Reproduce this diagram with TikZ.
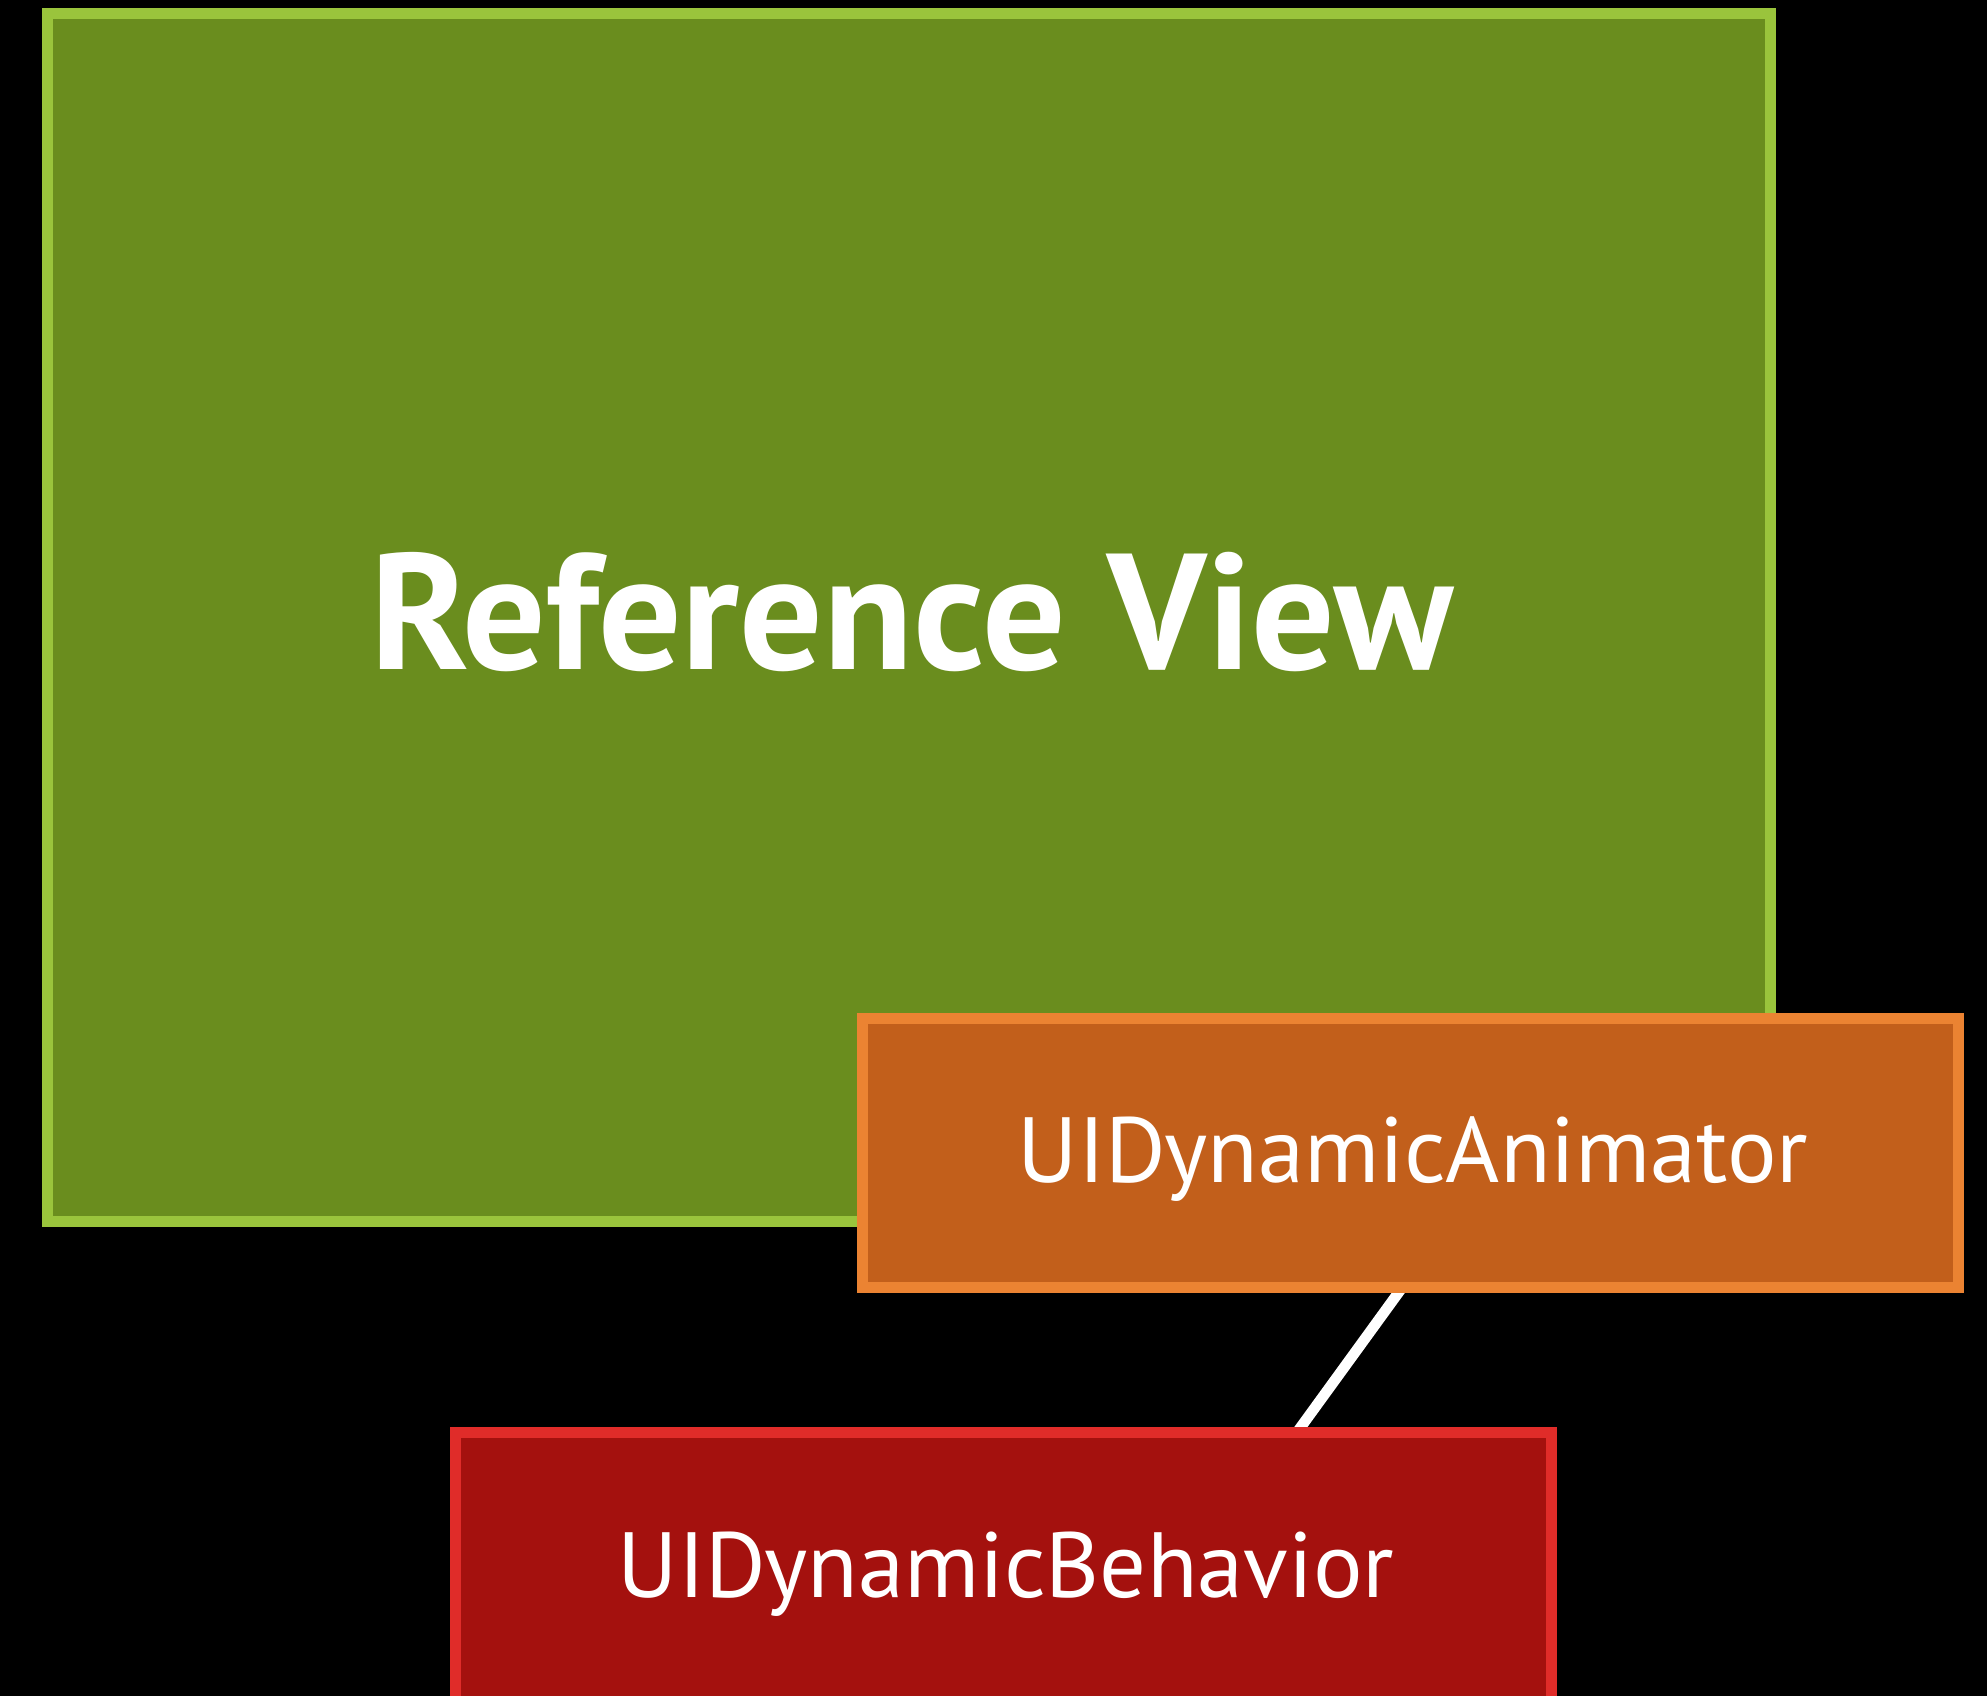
\documentclass[tikz,border=0pt]{standalone}
\usepackage{fontspec}
\setmainfont{PT Sans}
\usetikzlibrary{calc,backgrounds}
\definecolor{gfill}{HTML}{6A8D1E}
\definecolor{gline}{HTML}{9AC43C}
\definecolor{ofill}{HTML}{C25F1B}
\definecolor{oline}{HTML}{EB8332}
\definecolor{rfill}{HTML}{A4110E}
\definecolor{rline}{HTML}{E02C29}
\tikzset{
  box/.style={rectangle, line width=5.35pt, inner sep=0pt, outer sep=0pt},
  lbl/.style={text=white, anchor=base, inner sep=0pt},
  conn/.style={draw=white, line width=5.35pt}
}
\begin{document}
\begin{tikzpicture}[x=0.5pt,y=-0.5pt]
\useasboundingbox (0,0) rectangle (1987,1696);
\clip (0,0) rectangle (1987,1696);
\node[box, draw=gline, fill=gfill, minimum width=861.65pt, minimum height=604.15pt] (ref) at (909,617.5) {};
\node[lbl, font=\fontsize{82.5}{90}\selectfont\bfseries] (reft) at (912,669) {Reference View};
\node[box, draw=oline, fill=ofill, minimum width=548.15pt, minimum height=134.65pt] (anim) at (1410.5,1153) {};
\node[lbl, font=\fontsize{46.3}{54}\selectfont] (animt) at (1413,1182) {UIDynamicAnimator};
\node[box, draw=rline, fill=rfill, minimum width=548.15pt, minimum height=134.65pt] (beh) at (1003.5,1567) {};
\node[lbl, font=\fontsize{46.3}{54}\selectfont] (beht) at (1006,1597) {UIDynamicBehavior};
\coordinate (c1) at ($(anim.south west)!0.4923!(anim.south east)$);
\coordinate (c2) at ($(beh.north west)!0.7677!(beh.north east)$);
\begin{scope}[on background layer]
\fill[black] (0,0) rectangle (1987,1696);
\draw[conn] (c1) -- (c2);
\end{scope}
\end{tikzpicture}
\end{document}
